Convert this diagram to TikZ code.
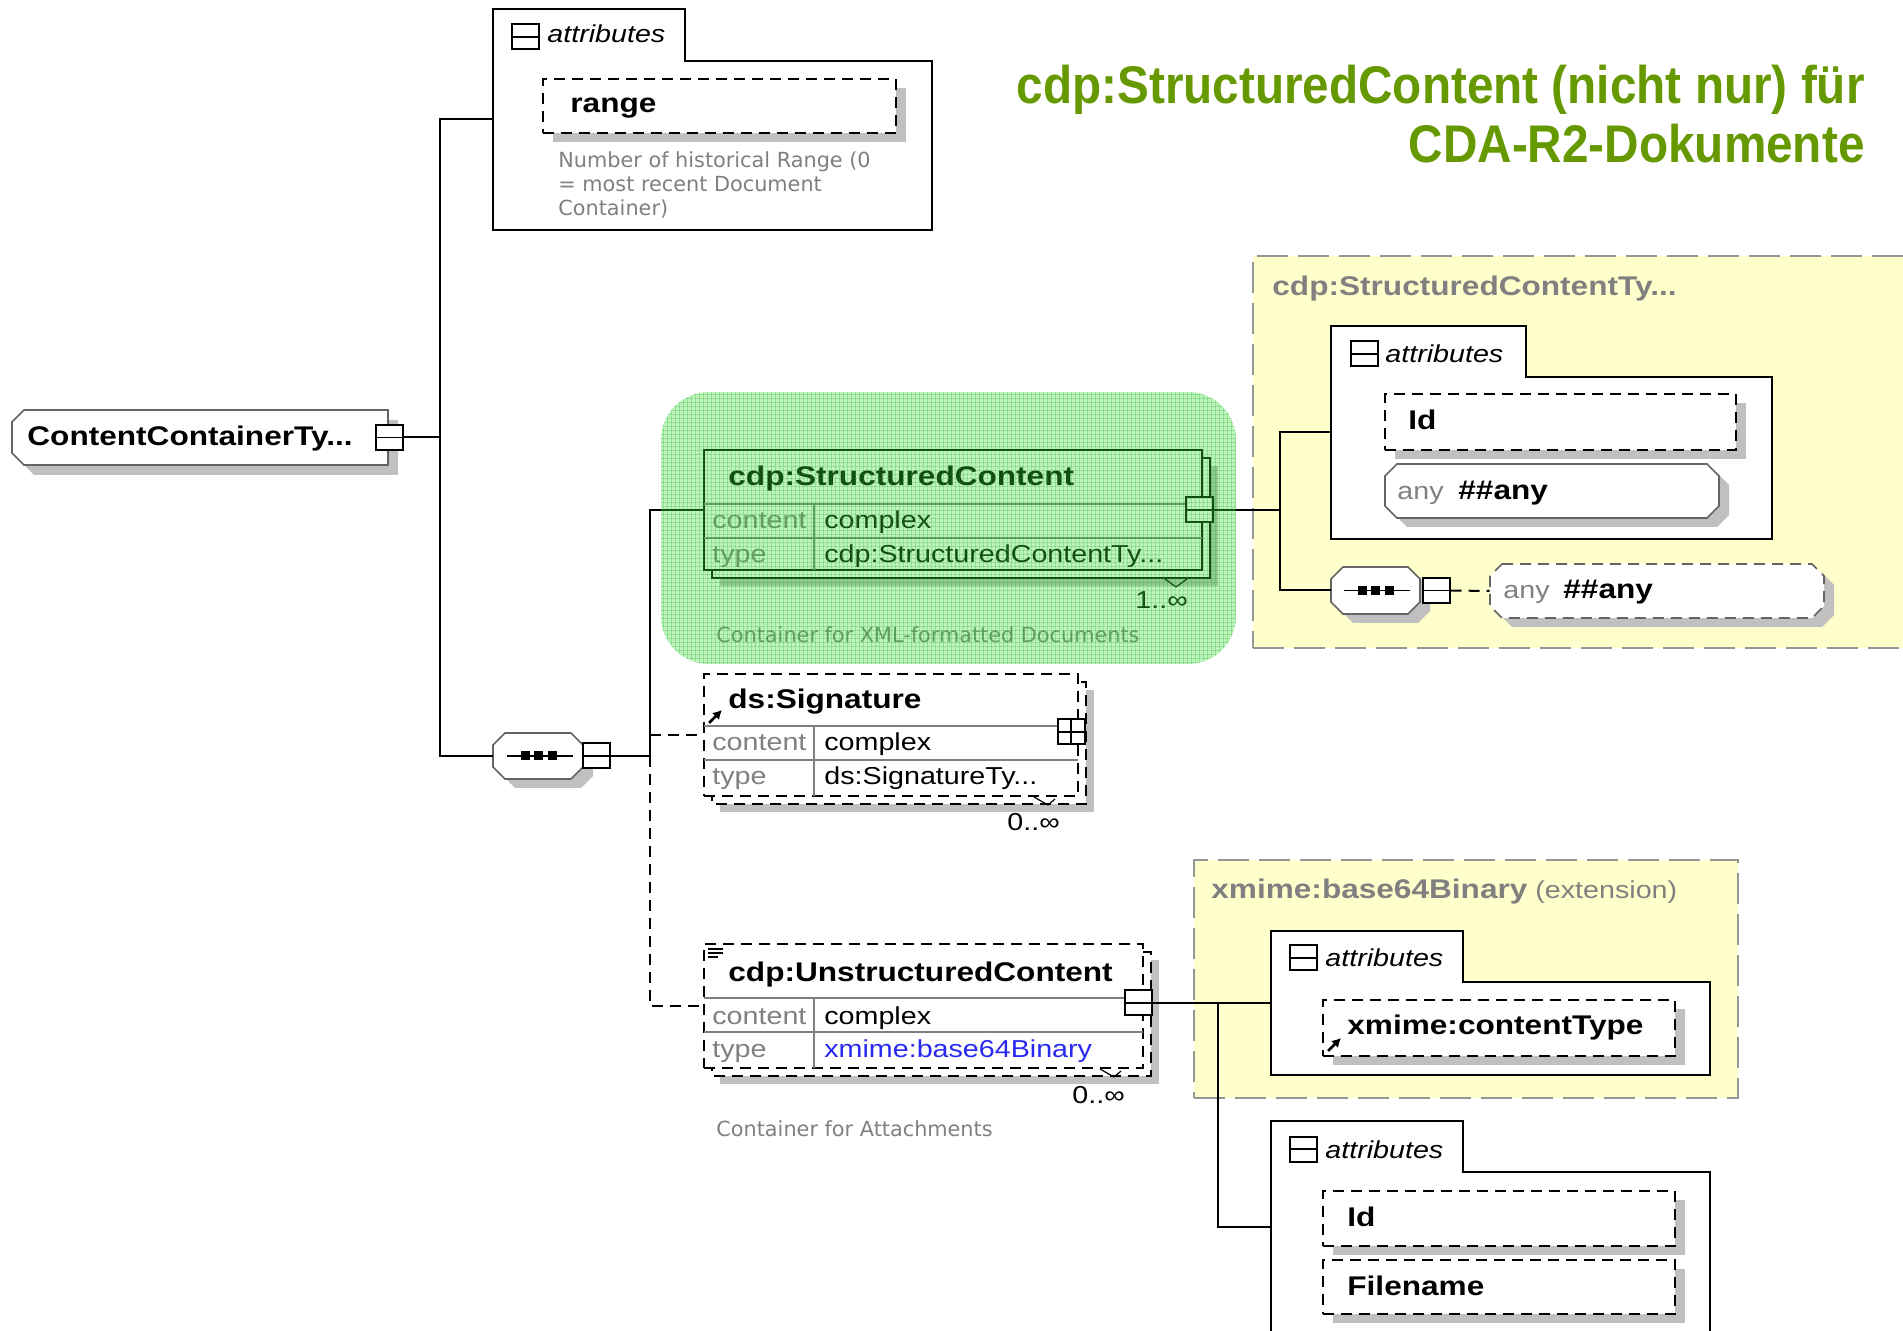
\documentclass[tikz,border=0pt]{standalone}
\usepackage{fontspec}
\setmainfont{Liberation Sans}
\newfontfamily\dgfont[FakeStretch=1.17]{Liberation Sans}
\newfontfamily\descfont{DejaVu Sans}
\newfontfamily\headfont[FakeStretch=0.9]{Liberation Sans}
\usetikzlibrary{fit,arrows.meta}

\definecolor{shadowgrey}{RGB}{192,192,192}
\definecolor{txtgrey}{RGB}{128,128,128}
\definecolor{edgegrey}{RGB}{100,100,100}
\definecolor{yel}{RGB}{255,255,204}
\definecolor{yelline}{RGB}{150,150,150}
\definecolor{ttlgreen}{RGB}{102,153,0}
\definecolor{hlgreen}{RGB}{60,220,60}
\definecolor{gridgreen}{RGB}{0,170,0}
\definecolor{lnkblue}{RGB}{40,40,240}

% chamfered outline: x1, y1, x2, y2, chamfer
\newcommand\octpath[5]{(#1+#5,#2) -- (#3-#5,#2) -- (#3,#2+#5) -- (#3,#4-#5) -- (#3-#5,#4) -- (#1+#5,#4) -- (#1,#4-#5) -- (#1,#2+#5) -- cycle}
% attribute group outline with tab: x1, top, tab right, tab bottom, x2, bottom
\newcommand\tabpath[6]{(#1,#4) -- (#1,#2) -- (#3,#2) -- (#3,#4) -- (#5,#4) -- (#5,#6) -- (#1,#6) -- cycle}
% sequence compositor symbol centred at (#1,#2)
\newcommand\seqmark[2]{%
  \draw[line width=0.8pt] (#1-32,#2) -- (#1+34,#2);
  \foreach \dx in {-13.5,0,13.5} \fill ({#1+\dx-4.5},{#2-4.5}) rectangle ({#1+\dx+4.5},{#2+4.5});}

\begin{document}
\begin{tikzpicture}[x=0.5pt,y=-0.5pt,
  conn/.style={line width=1pt,draw=black},
  dconn/.style={conn,dash pattern=on 5.5pt off 3.5pt},
  tag/.style={inner sep=0pt,draw=none},
  elem/.style={tag,draw=black,line width=0.8pt,fill=white},
  delem/.style={elem,dash pattern=on 5.5pt off 3.5pt},
  rowline/.style={draw=txtgrey,line width=0.6pt},
  ybox/.style={tag,fill=yel,draw=yelline,line width=0.8pt,dash pattern=on 15.5pt off 5pt},
  grp/.style={draw=black,line width=1pt,fill=white},
  octline/.style={draw=edgegrey,line width=0.8pt,fill=white},
  icon/.style={draw=black,line width=1pt,fill=white,minimum width=13.5pt,minimum height=12.5pt,inner sep=0pt,
    path picture={\draw[line width=0.8pt] (path picture bounding box.west) -- (path picture bounding box.east);}},
  plusicon/.style={icon,
    path picture={\draw[line width=0.8pt] (path picture bounding box.west) -- (path picture bounding box.east)
      (path picture bounding box.north) -- (path picture bounding box.south);}},
  lbl/.style={inner sep=0pt,anchor=base west},
  elname/.style={lbl,font=\dgfont\bfseries\fontsize{13.5}{16}\selectfont},
  rowkey/.style={lbl,font=\dgfont\fontsize{12.25}{14}\selectfont,text=txtgrey},
  rowval/.style={lbl,font=\dgfont\fontsize{12.25}{14}\selectfont},
  attrlbl/.style={lbl,font=\dgfont\itshape\fontsize{12.25}{14}\selectfont},
  doc/.style={lbl,font=\descfont\fontsize{10.4}{12}\selectfont,text=txtgrey},
  ttl/.style={inner sep=0pt,anchor=base east,text=ttlgreen,font=\headfont\bfseries\fontsize{26.5}{30}\selectfont},
  refmark/.style={line width=1.3pt,-{Latex[length=4.5pt,width=5pt]}},
  gridln/.style={draw=gridgreen,line width=0.25pt,draw opacity=0.22}
]
\path[use as bounding box] (0,0) rectangle (1903,1331);
\clip (0,0) rectangle (1903,1331);
\fill[white] (0,0) rectangle (1903,1331);

% ---------- complex type boxes ----------
\node[ybox,fit={(1253,256) (1915,648)}] (ytype) {};
\node[elname,text=txtgrey] (ytypename) at (1272,296) {cdp:StructuredContentTy...};
\node[ybox,fit={(1194,860) (1738,1098)}] (ybin) {};
\node[elname,text=txtgrey] (ybinname) at (1211,899) {xmime:base64Binary};
\node[rowval,text=txtgrey] (ybinext) at (1535,899) {(extension)};

% ---------- attributes of the container ----------
\draw[grp] \tabpath{493}{9}{685}{61}{932}{230};
\node[tag,fit={(493,9) (932,230)}] (grpA) {};
\node[icon] (grpAicon) at (525,37) {};
\node[attrlbl] (grpAlbl) at (547,43) {attributes};
\fill[shadowgrey] (553,88) rectangle (906,142);
\node[delem,fit={(543,79) (896,133)}] (range) {};
\node[elname] (rangename) at (570,113) {range};
\node[doc,anchor=north west,align=left] (rangedoc) at (558,151)
  {Number of historical Range (0\\= most recent Document\\Container)};

% ---------- attributes of cdp:StructuredContentType ----------
\draw[grp] \tabpath{1331}{326}{1526}{377}{1772}{539};
\node[tag,fit={(1331,326) (1772,539)}] (grpB) {};
\node[icon] (grpBicon) at (1364,354) {};
\node[attrlbl] (grpBlbl) at (1385,363) {attributes};
\fill[shadowgrey] (1395,403) rectangle (1746,459);
\node[delem,fit={(1385,394) (1736,450)}] (idA) {};
\node[elname] (idAname) at (1408,430) {Id};
\fill[shadowgrey] \octpath{1395}{473}{1729}{527}{12};
\draw[octline] \octpath{1385}{464}{1719}{518}{12};
\node[tag,fit={(1385,464) (1719,518)}] (anyA) {};
\node[rowkey] (anyAkey) at (1397,500) {any};
\node[elname] (anyAval) at (1458,500) {\#\#any};

% sequence inside cdp:StructuredContentType
\fill[shadowgrey] \octpath{1341}{576}{1430}{623}{12};
\draw[octline] \octpath{1331}{567}{1420}{614}{12};
\node[tag,fit={(1331,567) (1420,614)}] (seqB) {};
\seqmark{1375.5}{590.5}
\node[icon] (seqBicon) at (1436,590.5) {};
\fill[shadowgrey] \octpath{1500}{573}{1834}{627}{12};
\draw[octline,dash pattern=on 5.5pt off 3.5pt] \octpath{1490}{564}{1824}{618}{12};
\node[tag,fit={(1490,564) (1824,618)}] (anyB) {};
\node[rowkey] (anyBkey) at (1503,599) {any};
\node[elname] (anyBval) at (1563,599) {\#\#any};

% ---------- attributes of xmime:base64Binary ----------
\draw[grp] \tabpath{1271}{931}{1463}{982}{1710}{1075};
\node[tag,fit={(1271,931) (1710,1075)}] (grpC) {};
\node[icon] (grpCicon) at (1303,958) {};
\node[attrlbl] (grpClbl) at (1325,967) {attributes};
\fill[shadowgrey] (1333,1009) rectangle (1685,1065);
\node[delem,fit={(1323,1000) (1675,1056)}] (ctype) {};
\node[elname] (ctypename) at (1347,1035) {xmime:contentType};
\draw[refmark] (1328,1051) -- (1341,1038);

% ---------- attributes of cdp:UnstructuredContent ----------
\draw[grp] \tabpath{1271}{1121}{1463}{1172}{1710}{1345};
\node[tag,fit={(1271,1121) (1710,1333)}] (grpD) {};
\node[icon] (grpDicon) at (1303,1149) {};
\node[attrlbl] (grpDlbl) at (1325,1158) {attributes};
\fill[shadowgrey] (1333,1200) rectangle (1685,1255);
\node[delem,fit={(1323,1191) (1675,1246)}] (idB) {};
\node[elname] (idBname) at (1347,1226) {Id};
\fill[shadowgrey] (1333,1269) rectangle (1685,1323);
\node[delem,fit={(1323,1260) (1675,1314)}] (fname) {};
\node[elname] (fnamename) at (1347,1295) {Filename};

% ---------- root type ----------
\fill[shadowgrey] (34,420) -- (398,420) -- (398,475) -- (34,475) -- (22,463) -- (22,432) -- cycle;
\draw[octline] (24,410) -- (388,410) -- (388,465) -- (24,465) -- (12,453) -- (12,422) -- cycle;
\node[tag,fit={(12,410) (388,465)}] (root) {};
\node[elname] (rootname) at (27,446) {ContentContainerTy...};
\node[icon] (rooticon) at (389,437.5) {};

% ---------- sequence of the root ----------
\fill[shadowgrey] \octpath{503}{742}{593}{788}{12};
\draw[octline] \octpath{493}{733}{583}{779}{12};
\node[tag,fit={(493,733) (583,779)}] (seqA) {};
\seqmark{538.5}{756}
\node[icon] (seqAicon) at (596,756) {};

% ---------- cdp:StructuredContent ----------
\fill[shadowgrey] (720,466) rectangle (1218,586);
\draw[elem] (712,458) rectangle (1210,578);
\node[elem,fit={(704,450) (1202,570)}] (sc) {};
\draw[rowline] (704,504) -- (1202,504) (704,538) -- (1202,538) (814,504) -- (814,570);
\node[elname] (scname) at (728,486) {cdp:StructuredContent};
\node[rowkey] (sck1) at (712,529) {content};
\node[rowval] (scv1) at (824,529) {complex};
\node[rowkey] (sck2) at (712,563) {type};
\node[rowval] (scv2) at (824,563) {cdp:StructuredContentTy...};
\node[icon] (scicon) at (1199,510) {};
\draw[line width=0.6pt] (1165,579) -- (1176,587) -- (1187,579);
\node[rowval] (scocc) at (1135,609) {1..∞};
\node[doc] (scdoc) at (716,643) {Container for XML-formatted Documents};

% ---------- ds:Signature ----------
\fill[shadowgrey] (720,690) rectangle (1094,812);
\draw[elem,dash pattern=on 5.5pt off 3.5pt] (712,682) rectangle (1086,804);
\node[delem,fit={(704,674) (1078,796)}] (sig) {};
\draw[rowline] (704,726) -- (1078,726) (704,760) -- (1078,760) (814,726) -- (814,796);
\node[elname] (signame) at (728,709) {ds:Signature};
\node[rowkey] (sigk1) at (712,751) {content};
\node[rowval] (sigv1) at (824,751) {complex};
\node[rowkey] (sigk2) at (712,785) {type};
\node[rowval] (sigv2) at (824,785) {ds:SignatureTy...};
\draw[refmark] (709,723) -- (722,710);
\node[plusicon] (sigicon) at (1071,732) {};
\draw[line width=0.6pt] (1034,797) -- (1048,805) -- (1055,799);
\node[rowval] (sigocc) at (1007,831) {0..∞};

% ---------- cdp:UnstructuredContent ----------
\fill[shadowgrey] (720,960) rectangle (1159,1084);
\draw[elem,dash pattern=on 5.5pt off 3.5pt] (712,952) rectangle (1151,1076);
\node[delem,fit={(704,944) (1143,1068)}] (unst) {};
\draw[rowline] (704,998) -- (1143,998) (704,1032) -- (1143,1032) (814,998) -- (814,1068);
\draw[line width=0.7pt] (708,949) -- (723,949) (708,953) -- (723,953) (708,957) -- (718,957);
\node[elname] (unstname) at (728,981) {cdp:UnstructuredContent};
\node[rowkey] (unstk1) at (712,1024) {content};
\node[rowval] (unstv1) at (824,1024) {complex};
\node[rowkey] (unstk2) at (712,1058) {type};
\node[rowval,text=lnkblue] (unstv2) at (824,1058) {xmime:base64Binary};
\node[icon] (unsticon) at (1138,1003) {};
\draw[line width=0.6pt] (1100,1069) -- (1114,1077) -- (1121,1071);
\node[rowval] (unstocc) at (1072,1103) {0..∞};
\node[doc] (unstdoc) at (716,1136) {Container for Attachments};

% ---------- connectors ----------
\coordinate (trunkA) at (440,437.5);
\coordinate (trunkB) at (650,756);
\coordinate (trunkC) at (1280,510);
\coordinate (trunkD) at (1218,1003);
\draw[conn] (rooticon.east) -- (trunkA);
\draw[conn] (grpA.west) -| (trunkA) |- (seqA.west);
\draw[conn] (seqAicon.east) -- (trunkB);
\draw[conn] (trunkB) |- (sc.west);
\draw[dconn] (trunkB) |- (unst.west);
\draw[dconn] (sig.west -| trunkB) -- (sig.west);
\draw[conn] (scicon.east) -- (trunkC);
\draw[conn] (grpB.west) -| (trunkC) |- (seqB.west);
\draw[dconn] (seqBicon.east) -- (anyB.west);
\draw[conn] (unsticon.east) -- (grpC.west);
\draw[conn] (trunkD) |- (grpD.west);

% ---------- highlight of the selected element ----------
\begin{scope}
  \clip[rounded corners=24pt] (661,392) rectangle (1236,664);
  \fill[hlgreen,fill opacity=0.33] (661,392) rectangle (1236,664);
  \foreach \gx in {663,667,...,1235} \draw[gridln] (\gx,392) -- (\gx,664);
  \foreach \gy in {394,398,...,662} \draw[gridln] (661,\gy) -- (1236,\gy);
\end{scope}

% ---------- heading ----------
\node[ttl] (title1) at (1865,104) {cdp:StructuredContent (nicht nur) für};
\node[ttl] (title2) at (1865,163) {CDA-R2-Dokumente};
\end{tikzpicture}
\end{document}
